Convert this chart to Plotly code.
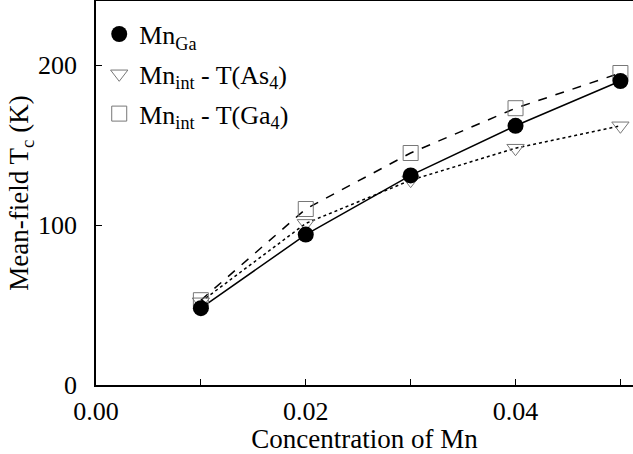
import plotly.graph_objects as go

conc = [0.01, 0.02, 0.03, 0.04, 0.05]
tc_mnga = [48, 94, 131, 162, 190]
tc_as4 = [52, 101, 128, 148, 162]
tc_ga4 = [53, 110, 145, 173, 195]

names = ["Mn<sub>Ga</sub>", "Mn<sub>int</sub> - T(As<sub>4</sub>)", "Mn<sub>int</sub> - T(Ga<sub>4</sub>)"]

FONT = "Liberation Serif, Times New Roman, serif"
fig = go.Figure()

# lines
fig.add_trace(go.Scatter(x=conc, y=tc_as4, mode="lines", line=dict(color="black", width=1.5, dash="dot"), showlegend=False))
fig.add_trace(go.Scatter(x=conc, y=tc_ga4, mode="lines", line=dict(color="black", width=1.5, dash="dash"), showlegend=False))
fig.add_trace(go.Scatter(x=conc, y=tc_mnga, mode="lines", line=dict(color="black", width=1.5), showlegend=False))

# markers
fig.add_trace(go.Scatter(x=conc, y=tc_as4, mode="markers", name=names[1], legendrank=2, legendgroup="b",
                         marker=dict(symbol="triangle-down-open", size=15, color="#777777", line=dict(width=1))))
fig.add_trace(go.Scatter(x=conc, y=tc_ga4, mode="markers", name=names[2], legendrank=3, legendgroup="c",
                         marker=dict(symbol="square-open", size=15, color="#777777", line=dict(width=1))))
fig.add_trace(go.Scatter(x=conc, y=tc_mnga, mode="markers", name=names[0], legendrank=1, legendgroup="a",
                         marker=dict(symbol="circle", size=16, color="black")))

fig.update_layout(
    width=633, height=454,
    margin=dict(l=96, r=0, t=1, b=69),
    plot_bgcolor="white", paper_bgcolor="white",
    font=dict(family=FONT, size=26, color="black"),
    legend=dict(x=0.006, y=0.975, xanchor="left", yanchor="top", bgcolor="rgba(0,0,0,0)",
                font=dict(size=26, family=FONT), itemwidth=30, tracegroupgap=3),
    xaxis=dict(range=[0, 0.0512], tickvals=[0, 0.01, 0.02, 0.03, 0.04, 0.05],
               ticktext=["0.00", "", "0.02", "", "0.04", ""],
               ticks="inside", ticklen=6, tickcolor="black", showgrid=False, zeroline=False,
               showline=True, linecolor="black", linewidth=1.5, mirror=True,
               tickfont=dict(size=26, family=FONT), ticklabelstandoff=2,
               title=dict(text="Concentration of Mn", standoff=3, font=dict(size=27, family=FONT))),
    yaxis=dict(range=[0, 240], tickvals=[0, 100, 200],
               ticks="inside", ticklen=6, tickcolor="black", showgrid=False, zeroline=False,
               showline=True, linecolor="black", linewidth=1.5,
               tickfont=dict(size=26, family=FONT), ticklabelstandoff=12,
               title=dict(text="Mean-field T<sub>c</sub> (K)", standoff=0, font=dict(size=27, family=FONT))),
)

fig.write_html("out.html", config={"displayModeBar": False},
               post_script="document.body.style.margin='0';document.body.style.overflow='hidden';")
